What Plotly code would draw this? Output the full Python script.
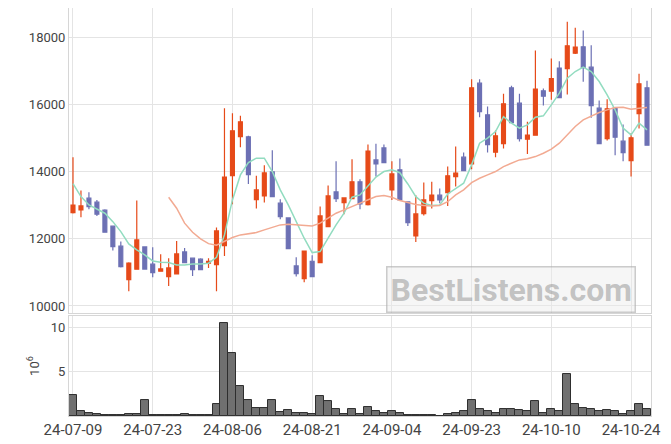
import plotly.graph_objects as go
from plotly.subplots import make_subplots

dates = ["24-07-09","24-07-10","24-07-11","24-07-12","24-07-15","24-07-16","24-07-17","24-07-18","24-07-19",
         "24-07-22","24-07-23","24-07-24","24-07-25","24-07-26","24-07-29","24-07-30","24-07-31",
         "24-08-01","24-08-02","24-08-05","24-08-06","24-08-07","24-08-08","24-08-09","24-08-12","24-08-13",
         "24-08-14","24-08-16","24-08-19","24-08-20","24-08-21","24-08-22","24-08-23","24-08-26","24-08-27",
         "24-08-28","24-08-29","24-08-30","24-09-02","24-09-03","24-09-04","24-09-05","24-09-06","24-09-09",
         "24-09-10","24-09-11","24-09-12","24-09-13","24-09-19","24-09-20","24-09-23","24-09-24","24-09-25",
         "24-09-26","24-09-27","24-09-30","24-10-02","24-10-04","24-10-07","24-10-08","24-10-10","24-10-11",
         "24-10-14","24-10-15","24-10-16","24-10-17","24-10-18","24-10-21","24-10-22","24-10-23","24-10-24",
         "24-10-25","24-10-28"]

open_ = [12785,12866,13215,13095,12857,12379,11782,10785,11095,11761,11245,11036,10875,10955,11612,11424,11394,
         11275,11233,11800,13890,15054,15045,13173,13284,14000,13066,12627,11194,10815,11334,11293,12367,13403,
         13084,13203,13702,13024,14358,14716,13463,14060,13105,12090,12755,13143,13305,13382,13860,14439,14239,
         16648,15702,14588,14845,16507,16051,14976,15096,16418,16409,17096,17084,17543,17731,17125,15902,14994,
         15902,14916,14338,15740,16507]
high = [14439,13442,13394,13164,12886,12390,11920,11305,13143,11782,11752,11543,11424,11940,11731,11440,11424,
        11424,12337,15901,15752,15672,15075,13881,14200,14648,13185,12650,11454,11640,11514,12964,13591,14319,
        13240,14379,13782,14815,14836,14815,14319,14397,13120,13305,13681,13702,13502,14158,14755,14576,16767,
        16767,15950,15233,16328,16567,16328,15493,17621,16487,17382,17304,18478,18299,18218,17782,16128,16170,
        15920,15412,15155,16925,16716]
low = [12760,12648,12886,12687,12190,11651,11150,10439,11080,11090,10857,11020,10597,10940,11280,10896,11070,
       11134,10439,11493,13036,14737,13642,12905,13084,13250,12588,11700,10875,10707,10860,11280,12350,13105,
       12737,13190,12886,13000,13860,14260,13164,13150,12388,11911,12700,12905,13065,12985,13561,14030,14081,
       15633,14576,14439,14697,15450,14905,14537,15080,15979,16149,16200,16308,17520,16687,15612,14830,14934,
       14498,14320,13860,15293,14790]
close = [13006,12985,12964,12737,12200,11770,11173,11275,11970,11100,10994,11105,11134,11552,11293,11084,11084,
         11334,12239,13842,15224,15493,13920,13463,13970,13263,12666,11711,10964,11633,10875,12687,13284,13203,
         13224,13702,13045,14618,14239,14278,13940,13164,12487,12746,13164,13305,13164,13881,13961,14039,16507,
         15800,14815,15075,16030,15472,14994,15096,16469,16260,16785,16218,17761,17722,17113,15979,14845,15881,
         15036,14576,15015,16627,14797]
ma_short = [13650,13263,13015,12886,12767,12516,12218,11851,11672,11522,11343,11305,11294,11224,11224,11250,11250,
            11275,11450,12120,13164,13910,14278,14409,14409,14010,13463,13015,12500,12021,11592,11622,12021,12418,
            12767,13245,13314,13570,13845,14010,14060,13975,13640,13260,13066,12995,13015,13340,13512,13662,14209,
            14857,15006,15203,15651,15454,15304,15403,15633,15672,16000,16349,16797,16995,17125,16995,16696,16299,
            15851,15304,15105,15454,15254]
ma_long = [None]*12 + [13245,12916,12470,12200,12000,11860,11810,11920,12040,12120,12149,12189,12269,12338,12418,
                       12438,12418,12418,12388,12470,12618,12767,12866,12965,13065,13164,13264,13294,13245,13144,
                       13080,13030,13000,12985,13000,13110,13314,13463,13681,13811,13910,14010,14159,14259,14358,
                       14390,14457,14557,14677,14856,15105,15353,15552,15672,15771,15851,15920,15931,15871,15901,15920]
volume = [2.35,0.53,0.38,0.27,0.12,0.12,0.12,0.2,0.2,1.85,0.1,0.1,0.1,0.1,0.22,0.1,0.1,0.1,1.3,10.5,7.1,3.35,
          1.85,0.95,0.95,1.8,0.5,0.65,0.38,0.38,0.27,2.3,1.63,0.76,0.27,0.76,0.27,1.06,0.53,0.38,0.53,0.38,0.1,
          0.1,0.1,0.1,0,0.27,0.38,0.53,1.85,0.83,0.53,0.38,0.83,0.76,0.65,0.53,1.67,0.38,0.76,0.53,4.7,1.29,0.95,
          0.76,0.53,0.65,0.53,0.27,0.53,1.29,0.76]
tick_labels = ["24-07-09","24-07-23","24-08-06","24-08-21","24-09-04","24-09-23","24-10-10","24-10-24"]
price_ticks = [10000,12000,14000,16000,18000]
volume_ticks = [5,10]

UP = "#E64A19"
DOWN = "#6C70B4"
GRID = "#e4e4e4"

fig = make_subplots(rows=2, cols=1, shared_xaxes=True, vertical_spacing=0.0075,
                    row_heights=[0.75, 0.245])

fig.add_trace(go.Candlestick(x=dates, open=open_, high=high, low=low, close=close,
                             increasing=dict(line=dict(color=UP, width=1.2), fillcolor=UP),
                             decreasing=dict(line=dict(color=DOWN, width=1.2), fillcolor=DOWN),
                             whiskerwidth=0, showlegend=False, hoverinfo="skip"), row=1, col=1)
fig.add_trace(go.Scatter(x=dates, y=ma_short, mode="lines",
                         line=dict(color="#92DCC0", width=1.5), showlegend=False, hoverinfo="skip"),
              row=1, col=1)
fig.add_trace(go.Scatter(x=dates, y=ma_long, mode="lines",
                         line=dict(color="#F2AA92", width=1.5), showlegend=False, hoverinfo="skip"),
              row=1, col=1)
fig.add_trace(go.Bar(x=dates, y=volume, marker=dict(color="#707070", line=dict(color="#2e2e2e", width=1)),
                     showlegend=False, hoverinfo="skip"), row=2, col=1)

axis_common = dict(showgrid=True, gridcolor=GRID, gridwidth=1, showline=True, linecolor="#d6d6d6",
                   linewidth=1, mirror=True, zeroline=False, ticks="")

fig.update_xaxes(type="category", categoryorder="array", categoryarray=dates,
                 tickmode="array", tickvals=tick_labels, ticktext=tick_labels,
                 tickfont=dict(size=15),
                 range=[-0.5, len(dates) - 0.5], rangeslider_visible=False, **axis_common)
fig.update_xaxes(showticklabels=False, row=1, col=1)
fig.update_yaxes(**axis_common)
fig.update_yaxes(range=[9790, 18890], tickvals=price_ticks, tickformat="d", row=1, col=1)
fig.update_yaxes(range=[0, 11.24], tickvals=volume_ticks,
                 title=dict(text="10<sup>6</sup>", standoff=8, font=dict(size=13, color="#444")),
                 row=2, col=1)

# the page body adds an 8px offset; margins compensate so the plot sits where the reference has it
fig.update_layout(
    width=671, height=444,
    margin=dict(l=61, r=28, t=0, b=36),
    paper_bgcolor="white", plot_bgcolor="white",
    font=dict(family="Roboto, sans-serif", size=13, color="#444"),
    bargap=0,
)
fig.update_layout(
    xaxis=dict(domain=[0, 1]), xaxis2=dict(domain=[0, 1]),
    yaxis=dict(domain=[0.2525, 1.0]), yaxis2=dict(domain=[0.0, 0.245]),
)

fig.add_annotation(x=0.759, y=0.309, xref="paper", yref="paper", text="<b>BestListens.com</b>",
                   showarrow=False, font=dict(family="Roboto, sans-serif", size=32,
                                              color="rgba(150,150,150,0.55)"),
                   bgcolor="rgba(235,235,235,0.45)", bordercolor="rgba(170,170,170,0.6)",
                   borderwidth=1.5, borderpad=3, xanchor="center", yanchor="middle")

fig.write_html("out.html")
